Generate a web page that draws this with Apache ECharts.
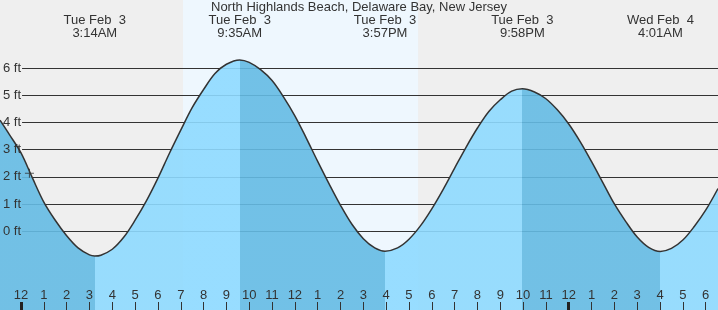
<!DOCTYPE html>
<html>
<head>
<meta charset="utf-8">
<script src="https://cdn.jsdelivr.net/npm/echarts@6/dist/echarts.min.js"></script>
<style>
    html, body { margin: 0; padding: 0; background: #efefef; }
    #tidechart { width: 718px; height: 310px; }
</style>
</head>
<body>
<div id="tidechart"></div>

<script type="text/javascript">
    var titleText = 'North Highlands Beach, Delaware Bay, New Jersey';

    // hours after midnight Tue Feb 3, predicted height in ft
    var tideHours = [-0.92, -0.5, 0, 0.5, 1, 1.5, 2, 2.5, 3, 3.233, 3.5, 4, 4.5, 5, 5.5, 6, 6.5, 7, 7.5, 8, 8.5, 9, 9.583,
                     10, 10.5, 11, 11.5, 12, 12.5, 13, 13.5, 14, 14.5, 15, 15.5, 15.95,
                     16.5, 17, 17.5, 18, 18.5, 19, 19.5, 20, 20.5, 21, 21.5, 21.967,
                     22.5, 23, 23.5, 24, 24.5, 25, 25.5, 26, 26.5, 27, 27.5, 28.017,
                     28.5, 29, 29.5, 30, 30.54];
    var tideFeet = [4.09, 3.55, 2.88, 1.96, 1.07, 0.40, -0.17, -0.62, -0.88, -0.92, -0.89, -0.67, -0.23, 0.40, 1.12, 1.95, 2.86, 3.72, 4.55, 5.22, 5.81, 6.15, 6.31,
                    6.22, 5.95, 5.55, 4.95, 4.25, 3.43, 2.57, 1.74, 0.95, 0.25, -0.28, -0.62, -0.74,
                    -0.62, -0.30, 0.19, 0.82, 1.54, 2.32, 3.09, 3.80, 4.41, 4.84, 5.16, 5.25,
                    5.13, 4.88, 4.47, 3.95, 3.30, 2.56, 1.78, 1.00, 0.35, -0.22, -0.60, -0.75,
                    -0.64, -0.33, 0.17, 0.77, 1.57];

    // highs and lows
    var extremeTimes = [3.233, 9.583, 15.95, 21.967, 28.017];
    var extremeLabels = ['Tue Feb  3\n3:14AM', 'Tue Feb  3\n9:35AM', 'Tue Feb  3\n3:57PM', 'Tue Feb  3\n9:58PM', 'Wed Feb  4\n4:01AM'];

    var hourTicks = [0, 1, 2, 3, 4, 5, 6, 7, 8, 9, 10, 11, 12, 13, 14, 15, 16, 17, 18, 19, 20, 21, 22, 23, 24, 25, 26, 27, 28, 29, 30];
    var midnightTicks = [0, 24];
    var feetTicks = [0, 1, 2, 3, 4, 5, 6];

    var daylight = [7.10, 17.40];   // sunrise / sunset
    var nowMark = [0.37, 2.13];

    var FONT = 'Liberation Sans';
    var TXT = '#333';
    var darkWater = '#64bbe4';
    var lightWater = '#8edaff';
    var xMin = -0.92, xMax = 30.54;
    var yMin = -2.91, yMax = 8.52;

    var pieces = [];
    for (var i = 0; i <= extremeTimes.length; i++) {
        var p = {color: i % 2 == 0 ? darkWater : lightWater};
        if (i > 0) p.gte = extremeTimes[i - 1];
        if (i < extremeTimes.length) p.lt = extremeTimes[i];
        pieces.push(p);
    }
    var tideData = [];
    for (var j = 0; j < tideHours.length; j++) {
        tideData.push([tideHours[j], tideFeet[j]]);
    }

    var chart = echarts.init(document.getElementById('tidechart'));
    var option = {
        backgroundColor: '#efefef',
        animation: false,
        title: {
            text: titleText,
            left: 'center',
            top: 0,
            padding: [1, 0, 0, 0],
            textStyle: {fontFamily: FONT, fontSize: 13, fontWeight: 'normal', color: TXT}
        },
        grid: [
            {left: 0, right: 0, top: 0, bottom: 0},
            {left: 21, right: 0, top: 0, bottom: 0}
        ],
        xAxis: [
            {
                type: 'value', gridIndex: 0, min: xMin, max: xMax, position: 'bottom', z: 5,
                axisLine: {show: false, onZero: false},
                splitLine: {show: false},
                axisTick: {inside: true, length: 8, customValues: hourTicks, lineStyle: {color: TXT, width: 1}},
                axisLabel: {
                    inside: true, margin: 8, customValues: hourTicks,
                    fontFamily: FONT, fontSize: 13, color: TXT,
                    formatter: function (v) {
                        var h = ((v % 12) + 12) % 12;
                        return String(h === 0 ? 12 : h);
                    }
                }
            },
            {
                type: 'value', gridIndex: 0, min: xMin, max: xMax, position: 'bottom', z: 6,
                axisLine: {show: false, onZero: false},
                splitLine: {show: false},
                axisLabel: {show: false},
                axisTick: {inside: true, length: 8, customValues: midnightTicks, lineStyle: {color: '#222', width: 3}}
            },
            {
                type: 'value', gridIndex: 0, min: xMin, max: xMax, position: 'top', z: 5,
                axisLine: {show: false, onZero: false},
                axisTick: {show: false},
                splitLine: {show: false},
                axisLabel: {
                    inside: true, margin: 14.5, customValues: extremeTimes,
                    fontFamily: FONT, fontSize: 13, color: TXT, lineHeight: 12.5, align: 'center',
                    formatter: function (v) {
                        return extremeLabels[extremeTimes.indexOf(v)];
                    }
                }
            },
            {type: 'value', gridIndex: 1, min: 0, max: xMax, show: false}
        ],
        yAxis: [
            {type: 'value', gridIndex: 0, min: yMin, max: yMax, show: false},
            {
                type: 'value', gridIndex: 1, min: yMin, max: yMax, position: 'left', z: 0,
                axisLine: {show: false},
                axisTick: {show: false, customValues: feetTicks},
                axisLabel: {show: false, customValues: feetTicks},
                splitLine: {show: true, lineStyle: {color: '#333', width: 1}}
            },
            {
                type: 'value', gridIndex: 1, min: yMin, max: yMax, position: 'left', z: 5,
                axisLine: {show: false},
                axisTick: {show: false, customValues: feetTicks},
                splitLine: {show: false},
                axisLabel: {
                    customValues: feetTicks, margin: 1,
                    fontFamily: FONT, fontSize: 13, color: TXT,
                    formatter: '{value} ft'
                }
            }
        ],
        visualMap: {
            type: 'piecewise',
            show: false,
            dimension: 0,
            seriesIndex: 1,
            pieces: pieces
        },
        series: [
            {
                type: 'line',
                xAxisIndex: 0, yAxisIndex: 0,
                data: [],
                markArea: {
                    silent: true,
                    z: -1,
                    itemStyle: {color: '#eef7fe'},
                    data: [[{xAxis: daylight[0]}, {xAxis: daylight[1]}]]
                }
            },
            {
                name: 'tide',
                type: 'line',
                xAxisIndex: 0, yAxisIndex: 0,
                data: tideData,
                smooth: 0.35,
                showSymbol: false,
                z: 2,
                lineStyle: {color: '#333', width: 1.5},
                areaStyle: {opacity: 0.9, origin: 'start'}
            },
            {
                type: 'scatter',
                xAxisIndex: 0, yAxisIndex: 0,
                data: [nowMark],
                symbol: 'path://M0,4.4H10V5.6H0Z M4.4,0H5.6V10H4.4Z',
                symbolSize: 9,
                itemStyle: {color: '#333'},
                z: 4
            }
        ]
    };
    chart.setOption(option);
</script>
</body>
</html>
